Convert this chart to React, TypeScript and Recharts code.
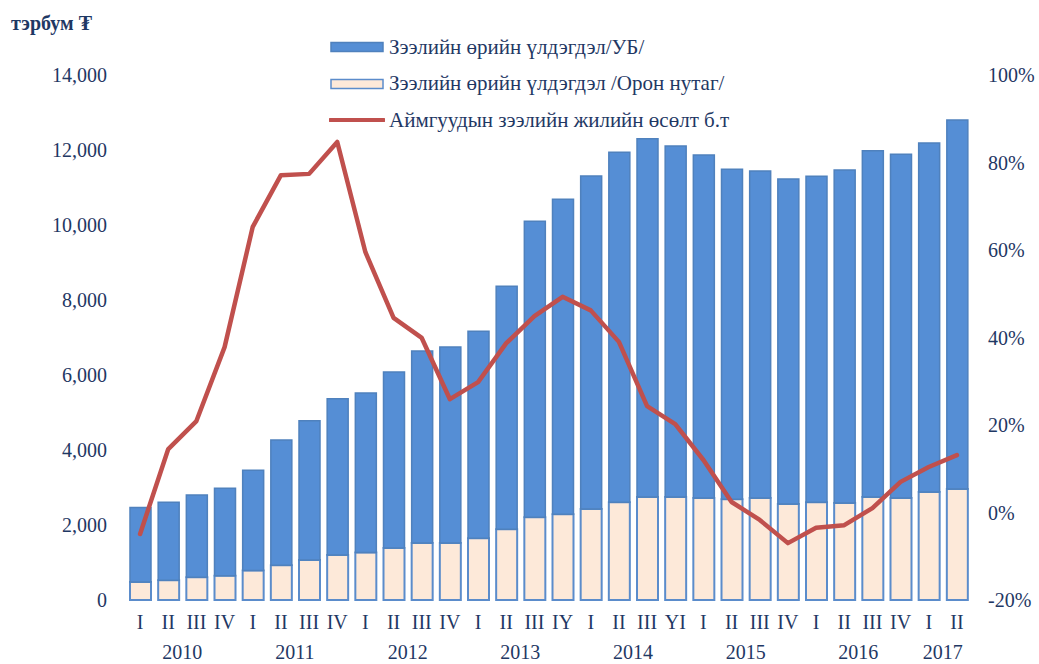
import React from "react";
import { ComposedChart, Bar, Line, XAxis, YAxis, Legend } from "recharts";

// quarter labels as printed under the bars
const quarters = [
    "I", "II", "III", "IV",
    "I", "II", "III", "IV",
    "I", "II", "III", "IV",
    "I", "II", "III", "IY",
    "I", "II", "III", "YI",
    "I", "II", "III", "IV",
    "I", "II", "III", "IV",
    "I", "II",
];

const years = [
    "2010", "2010", "2010", "2010",
    "2011", "2011", "2011", "2011",
    "2012", "2012", "2012", "2012",
    "2013", "2013", "2013", "2013",
    "2014", "2014", "2014", "2014",
    "2015", "2015", "2015", "2015",
    "2016", "2016", "2016", "2016",
    "2017", "2017",
];

// тэрбум ₮
const ubBalance = [
    1990, 2080, 2190, 2330, 2670, 3340, 3710, 4170, 4250, 4690,
    5120, 5230, 5520, 6480, 7890, 8400, 8880, 9330, 9550, 9360,
    9150, 8800, 8720, 8670, 8690, 8880, 9230, 9170, 9310, 9840,
];

const ruralBalance = [
    480, 530, 610, 650, 790, 930, 1070, 1200, 1270, 1390,
    1520, 1520, 1650, 1890, 2210, 2290, 2430, 2610, 2750, 2750,
    2720, 2690, 2720, 2560, 2610, 2590, 2750, 2720, 2880, 2960,
];

// %
const ruralGrowth = [
    -4.9, 14.5, 20.9, 37.8, 65.3, 77.1, 77.4, 84.7, 59.5, 44.5,
    39.9, 25.9, 29.8, 38.7, 44.9, 49.3, 46.2, 39.0, 24.3, 20.2,
    12.0, 2.4, -1.7, -7.0, -3.5, -2.9, 1.0, 7.0, 10.4, 13.1,
];

const leftTicks = [0, 2000, 4000, 6000, 8000, 10000, 12000, 14000];
const rightTicks = [-20, 0, 20, 40, 60, 80, 100];

const UB_LABEL = "Зээлийн өрийн үлдэгдэл/УБ/";
const RURAL_LABEL = "Зээлийн өрийн үлдэгдэл /Орон нутаг/";
const GROWTH_LABEL = "Аймгуудын зээлийн жилийн өсөлт б.т";

const WIDTH = 1039;
const HEIGHT = 664;
const PLOT_LEFT = 126;
const PLOT_RIGHT = 971;
const STEP = (PLOT_RIGHT - PLOT_LEFT) / quarters.length;

const TEXT = "#1F3864";
const FONT = "Liberation Serif, Times New Roman, serif";
const BLUE = "#558ED5";
const BLUE_EDGE = "#4F81BD";
const PEACH = "#FDE9D9";
const RED = "#C0504D";

const data = quarters.map((q, i) => ({
    key: `${years[i]}-${i}`,
    quarter: q,
    year: years[i],
    ub: ubBalance[i],
    rural: ruralBalance[i],
    growth: ruralGrowth[i],
}));

function QuarterTick(props: any) {
    const { x, y, index } = props;
    const year = years[index];
    const first = years.indexOf(year);
    const count = years.filter((v) => v === year).length;
    const showYear = index === first;
    return (
        <g>
            <text x={x} y={y + 29} textAnchor="middle" fontSize={20} fill={TEXT} fontFamily={FONT}>
                {quarters[index]}
            </text>
            {showYear && (
                <text
                    x={x + ((count - 1) / 2) * STEP}
                    y={y + 59}
                    textAnchor="middle"
                    fontSize={20}
                    fill={TEXT}
                    fontFamily={FONT}
                >
                    {year}
                </text>
            )}
        </g>
    );
}

function ChartLegend() {
    const rows = [
        { label: UB_LABEL, kind: "ub" },
        { label: RURAL_LABEL, kind: "rural" },
        { label: GROWTH_LABEL, kind: "line" },
    ];
    return (
        <div style={{ fontFamily: FONT, color: TEXT, fontSize: 21 }}>
            {rows.map((r) => (
                <div key={r.kind} style={{ display: "flex", alignItems: "center", height: 36.5 }}>
                    <svg width={56} height={14} style={{ marginRight: 4 }}>
                        {r.kind === "line" ? (
                            <line x1={1} y1={7} x2={55} y2={7} stroke={RED} strokeWidth={4} strokeLinecap="round" />
                        ) : (
                            <rect
                                x={2}
                                y={2.5}
                                width={52}
                                height={9}
                                fill={r.kind === "ub" ? BLUE : PEACH}
                                stroke={r.kind === "ub" ? BLUE_EDGE : "#5B8CCB"}
                                strokeWidth={1.5}
                            />
                        )}
                    </svg>
                    <span style={{ whiteSpace: "nowrap" }}>{r.label}</span>
                </div>
            ))}
        </div>
    );
}

export default function App() {
    return (
        <div
            style={{
                position: "absolute",
                left: 0,
                top: 0,
                width: WIDTH,
                height: HEIGHT,
                background: "#fff",
                fontFamily: FONT,
            }}
        >
            <div
                style={{
                    position: "absolute",
                    left: 11,
                    top: 12,
                    fontSize: 20,
                    fontWeight: "bold",
                    color: TEXT,
                    fontFamily: FONT,
                }}
            >
                тэрбум ₮
            </div>
            <ComposedChart
                width={WIDTH}
                height={HEIGHT}
                data={data}
                margin={{ top: 75, right: 0, bottom: 0, left: 0 }}
                barSize={21}
            >
                <XAxis
                    dataKey="key"
                    height={64}
                    interval={0}
                    axisLine={false}
                    tickLine={false}
                    tickSize={0}
                    tickMargin={0}
                    tick={<QuarterTick />}
                />
                <YAxis
                    yAxisId="left"
                    width={PLOT_LEFT}
                    domain={[0, 14000]}
                    ticks={leftTicks}
                    axisLine={false}
                    tickLine={false}
                    tickSize={0}
                    tickMargin={19}
                    tickFormatter={(v: number) => v.toLocaleString("en-US")}
                    tick={{ fontSize: 20, fill: TEXT, fontFamily: FONT }}
                />
                <YAxis
                    yAxisId="right"
                    orientation="right"
                    width={WIDTH - PLOT_RIGHT}
                    domain={[-20, 100]}
                    ticks={rightTicks}
                    axisLine={false}
                    tickLine={false}
                    tickSize={0}
                    tickMargin={17}
                    tickFormatter={(v: number) => `${v}%`}
                    tick={{ fontSize: 20, fill: TEXT, fontFamily: FONT, textAnchor: "start" }}
                />
                <Legend
                    layout="vertical"
                    verticalAlign="middle"
                    align="center"
                    wrapperStyle={{ top: 29, left: 329, width: 520 }}
                    content={<ChartLegend />}
                />
                <Bar
                    yAxisId="left"
                    dataKey="rural"
                    name={RURAL_LABEL}
                    stackId="a"
                    fill={PEACH}
                    stroke="#5B8CCB"
                    strokeWidth={2}
                    isAnimationActive={false}
                />
                <Bar
                    yAxisId="left"
                    dataKey="ub"
                    name={UB_LABEL}
                    stackId="a"
                    fill={BLUE}
                    stroke={BLUE_EDGE}
                    strokeWidth={1.5}
                    isAnimationActive={false}
                />
                <Line
                    yAxisId="right"
                    type="linear"
                    dataKey="growth"
                    name={GROWTH_LABEL}
                    stroke={RED}
                    strokeWidth={4.5}
                    strokeLinejoin="round"
                    strokeLinecap="round"
                    dot={false}
                    activeDot={false}
                    isAnimationActive={false}
                />
            </ComposedChart>
        </div>
    );
}
